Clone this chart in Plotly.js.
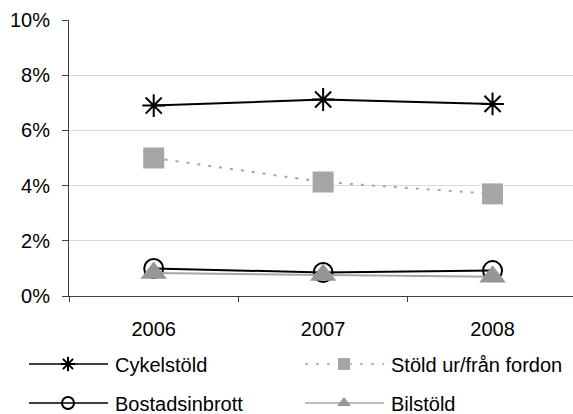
<!DOCTYPE html>
<html>
<head>
<meta charset="utf-8">
<script src="https://cdn.plot.ly/plotly-3.0.1.min.js"></script>
<style>
  html, body { margin: 0; padding: 0; background: #fff; }
  #chart { width: 573px; height: 414px; }
</style>
</head>
<body>
<div id="chart"></div>
<script>
const years = ['2006', '2007', '2008'];
const cykelstold = [6.9, 7.12, 6.96];
const stoldFordon = [5.0, 4.13, 3.7];
const bostadsinbrott = [1.0, 0.85, 0.92];
const bilstold = [0.83, 0.76, 0.70];
const seriesNames = ['Cykelstöld', 'Stöld ur/från fordon', 'Bostadsinbrott', 'Bilstöld'];

const FONT = 'Liberation Sans, Arial, Helvetica, sans-serif';

const traces = [
  {
    x: years, y: cykelstold, name: seriesNames[0], type: 'scatter', mode: 'lines+markers',
    line: { color: '#000000', width: 2 },
    marker: { symbol: 'asterisk-open', size: 19, color: '#000000', line: { color: '#000000', width: 2 } },
    legend: 'legend'
  },
  {
    x: years, y: stoldFordon, name: seriesNames[1], type: 'scatter', mode: 'lines+markers',
    line: { color: '#a6a6a6', width: 2, dash: '3px,8px' },
    marker: { symbol: 'square', size: 21, color: '#a6a6a6' },
    legend: 'legend2'
  },
  {
    x: years, y: bostadsinbrott, name: seriesNames[2], type: 'scatter', mode: 'lines+markers',
    line: { color: '#000000', width: 2 },
    marker: { symbol: 'circle-open', size: 19, color: '#000000', line: { color: '#000000', width: 2 } },
    legend: 'legend3'
  },
  {
    x: years, y: bilstold, name: seriesNames[3], type: 'scatter', mode: 'lines+markers',
    line: { color: '#a6a6a6', width: 2 },
    marker: { symbol: 'triangle-up', size: 23, color: '#969696' },
    legend: 'legend4'
  }
];

function leg(xpx, ypx) {
  return {
    x: xpx / 573, xref: 'container', xanchor: 'left',
    y: 1 - ypx / 414, yref: 'container', yanchor: 'middle',
    bgcolor: 'rgba(0,0,0,0)', borderwidth: 0,
    font: { family: FONT, size: 20, color: '#000000' },
    itemsizing: 'constant', itemwidth: 81, orientation: 'h'
  };
}

const layout = {
  width: 573, height: 414,
  margin: { l: 69, r: 0, t: 20, b: 118, pad: 0 },
  paper_bgcolor: '#ffffff', plot_bgcolor: '#ffffff',
  font: { family: FONT, size: 20, color: '#000000' },
  showlegend: true,
  xaxis: {
    type: 'category', range: [-0.5, 2.475],
    showline: true, linecolor: '#404040', linewidth: 1,
    ticks: 'outside', ticklen: 5, tickcolor: '#404040', tickson: 'boundaries',
    showgrid: false, zeroline: false,
    tickfont: { family: FONT, size: 20, color: '#000000' },
    ticklabelstandoff: 15
  },
  yaxis: {
    range: [0, 10], dtick: 2, tick0: 0, ticksuffix: '%',
    showline: true, linecolor: '#404040', linewidth: 1,
    ticks: 'outside', ticklen: 6, tickcolor: '#404040',
    showgrid: true, gridcolor: '#d9d9d9', gridwidth: 1, zeroline: false,
    tickfont: { family: FONT, size: 20, color: '#000000' },
    ticklabelstandoff: 8
  },
  legend: leg(24, 364),
  legend2: leg(300, 364),
  legend3: leg(24, 403),
  legend4: leg(300, 403)
};

Plotly.newPlot('chart', traces, layout, { displayModeBar: false, staticPlot: true }).then(function (gd) {
  gd.querySelectorAll('.infolayer g.traces').forEach(function (g) {
    g.querySelectorAll('.legendlines path').forEach(function (p) {
      p.setAttribute('d', 'M5,0h79');
      p.style.strokeWidth = '1.6px';
    });
    g.querySelectorAll('.legendpoints path.scatterpts').forEach(function (p) { p.setAttribute('transform', 'translate(44,0)'); });
  });
});
</script>
</body>
</html>
